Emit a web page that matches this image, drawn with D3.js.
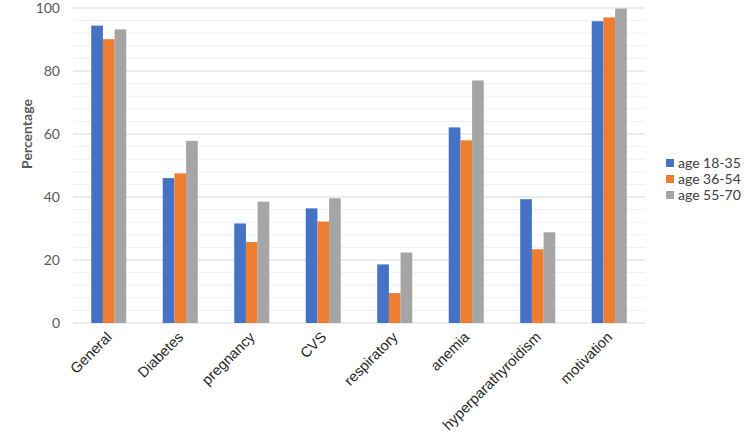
<!DOCTYPE html>
<html><head><meta charset="utf-8">
<script src="https://cdn.jsdelivr.net/npm/d3@7"></script>
<style>body{margin:0;background:#fff}svg{display:block;font-family:Lato,"Open Sans",sans-serif}</style>
</head><body><svg id="c" width="750" height="446"></svg>
<script>
const categories = ["General","Diabetes","pregnancy","CVS","respiratory","anemia","hyperparathyroidism","motivation"];
const seriesNames = ["age 18-35","age 36-54","age 55-70"];
const age18_35 = [94.4,46.0,31.6,36.4,18.6,62.1,39.3,95.8];
const age36_54 = [90.1,47.5,25.7,32.2,9.5,58.0,23.4,97.0];
const age55_70 = [93.2,57.8,38.5,39.6,22.4,77.0,28.8,99.8];
const colors = ["#4472C4","#ED7D31","#A5A5A5"];
const majorTicks = [0,20,40,60,80,100];
const seriesVals = [age18_35, age36_54, age55_70];

const svg = d3.select("#c");
const m = {left:73, right:105, top:8, bottom:123};
const W = 750, H = 446;
const x0 = d3.scaleBand().domain(categories).range([m.left, W-m.right]).paddingInner(0.51).paddingOuter(0.255);
const x1 = d3.scaleBand().domain(seriesNames).range([0, x0.bandwidth()]);
const y = d3.scaleLinear().domain([0,100]).range([H-m.bottom, m.top]);

// minor grid
svg.append("g").selectAll("line").data(d3.range(0,101,4).filter(v=>v%20!==0)).join("line")
  .attr("x1",m.left).attr("x2",W-m.right).attr("y1",d=>y(d)).attr("y2",d=>y(d))
  .attr("stroke","#f0f0f0").attr("stroke-width",1);
// major grid
svg.append("g").selectAll("line").data(majorTicks).join("line")
  .attr("x1",m.left).attr("x2",W-m.right).attr("y1",d=>y(d)).attr("y2",d=>y(d))
  .attr("stroke","#d9d9d9").attr("stroke-width",1);

// y axis labels
const ya = svg.append("g").attr("transform",`translate(${m.left},0)`)
  .call(d3.axisLeft(y).tickValues(majorTicks).tickSize(0).tickPadding(13));
ya.select(".domain").remove();
ya.selectAll("text").attr("font-size",14).attr("fill","#595959").attr("font-family","Lato,sans-serif");

// bars
const g = svg.append("g");
categories.forEach((c,i)=>{
  seriesNames.forEach((s,j)=>{
    const v = seriesVals[j][i];
    g.append("rect").attr("x",x0(c)+x1(s)).attr("width",x1.bandwidth())
      .attr("y",y(v)).attr("height",y(0)-y(v)).attr("fill",colors[j]);
  });
});

// x axis
const xa = svg.append("g").attr("transform",`translate(0,${y(0)})`)
  .call(d3.axisBottom(x0).tickSize(0).tickPadding(0));
xa.select(".domain").remove();
xa.selectAll("text").attr("font-size",14.5).attr("fill","#262626")
  .attr("text-anchor","end").attr("dy",0)
  .attr("transform","translate(4,15) rotate(-45)");

// y title
svg.append("text").attr("transform",`translate(32,${y(60)}) rotate(-90)`)
  .attr("text-anchor","middle").attr("font-size",14).attr("font-weight","bold").attr("fill","#595959")
  .text("Percentage");

// legend
const lg = svg.append("g").attr("transform","translate(666,163)");
seriesNames.forEach((s,j)=>{
  const r = lg.append("g").attr("transform",`translate(0,${j*16})`);
  r.append("rect").attr("x",0).attr("y",-4).attr("width",8).attr("height",8).attr("fill",colors[j]);
  r.append("text").attr("x",12).attr("y",0).attr("dy","0.35em").attr("font-size",14).attr("fill","#404040").text(s);
});
</script></body></html>
